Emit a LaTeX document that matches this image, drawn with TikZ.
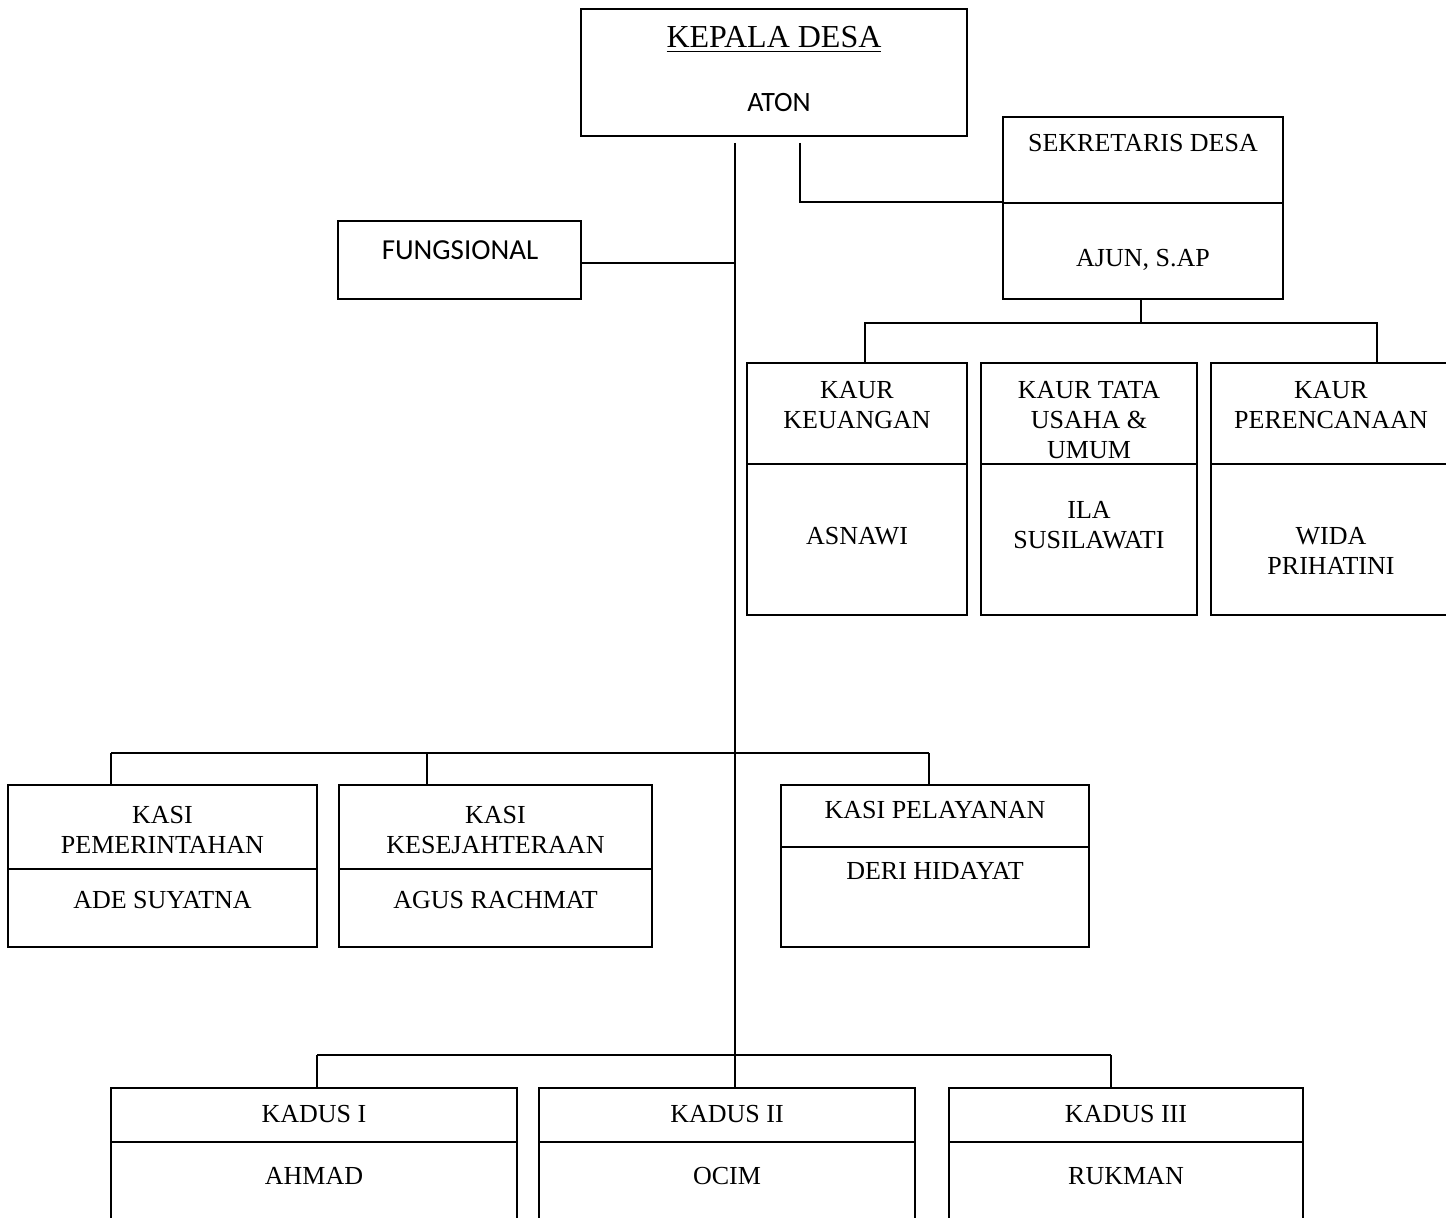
\documentclass[tikz,border=0pt]{standalone}
\usepackage{fontspec}
\setmainfont{Liberation Serif}
\newfontfamily\calibfont{Carlito}
\usetikzlibrary{fit}
\tikzset{
  cell/.style={draw=black, line width=0.8pt, inner sep=0pt},
  lbl/.style={font=\fontsize{13}{15}\selectfont, align=center, inner sep=0pt},
  baselbl/.style={lbl, anchor=base},
  sanslbl/.style={font=\calibfont\fontsize{14}{16}\selectfont, anchor=base, inner sep=0pt},
  link/.style={draw=black, line width=0.9pt},
}
\begin{document}
\begin{tikzpicture}[x=0.5pt,y=-0.5pt]
\useasboundingbox (0,0) rectangle (1446,1218);
% kepala desa
\node[cell, fit={(581,9) (967,136)}] (kades) {};
\node[baselbl, font=\fontsize{16}{18}\selectfont] (kadesT) at (774,48) {\underline{KEPALA DESA}};
\node[sanslbl] (kadesN) at (779,112) {ATON};
% fungsional
\node[cell, fit={(338,221) (581,299)}] (fung) {};
\node[sanslbl, font=\calibfont\fontsize{14.5}{16}\selectfont] (fungT) at (460,260) {FUNGSIONAL};
% sekretaris desa
\node[cell, fit={(1003,117) (1283,203)}] (sekT) {};
\node[cell, fit={(1003,203) (1283,299)}] (sekB) {};
\node[baselbl] (sekTx) at (1143,152) {SEKRETARIS DESA};
\node[baselbl] (sekBx) at (1143,267) {AJUN, S.AP};
% kaur
\node[cell, fit={(747,363) (967,464)}] (keuT) {};
\node[cell, fit={(747,464) (967,615)}] (keuB) {};
\node[cell, fit={(981,363) (1197,464)}] (tuT) {};
\node[cell, fit={(981,464) (1197,615)}] (tuB) {};
\node[cell, fit={(1211,363) (1451,464)}] (renT) {};
\node[cell, fit={(1211,464) (1451,615)}] (renB) {};
\node[lbl] (keuTx) at (857,405.5) {KAUR\\KEUANGAN};
\node[baselbl] (keuBx) at (857,545) {ASNAWI};
\node[lbl] (tuTx) at (1089,420) {KAUR TATA\\USAHA \&\\UMUM};
\node[lbl] (tuBx) at (1089,525) {ILA\\SUSILAWATI};
\node[lbl] (renTx) at (1331,405.5) {KAUR\\PERENCANAAN};
\node[lbl] (renBx) at (1331,551) {WIDA\\PRIHATINI};
% kasi
\node[cell, fit={(8,785) (317,869)}] (pemT) {};
\node[cell, fit={(8,869) (317,947)}] (pemB) {};
\node[cell, fit={(339,785) (652,869)}] (kesT) {};
\node[cell, fit={(339,869) (652,947)}] (kesB) {};
\node[cell, fit={(781,785) (1089,847)}] (pelT) {};
\node[cell, fit={(781,847) (1089,947)}] (pelB) {};
\node[lbl] (pemTx) at (162.5,830) {KASI\\PEMERINTAHAN};
\node[baselbl] (pemBx) at (162.5,908) {ADE SUYATNA};
\node[lbl] (kesTx) at (495.5,830) {KASI\\KESEJAHTERAAN};
\node[baselbl] (kesBx) at (495.5,908) {AGUS RACHMAT};
\node[baselbl] (pelTx) at (935,819) {KASI PELAYANAN};
\node[baselbl] (pelBx) at (935,879) {DERI HIDAYAT};
% kadus (cut off at the bottom edge)
\node[cell, fit={(111,1088) (517,1142)}] (kd1T) {};
\node[cell, fit={(111,1142) (517,1240)}] (kd1B) {};
\node[cell, fit={(539,1088) (915,1142)}] (kd2T) {};
\node[cell, fit={(539,1142) (915,1240)}] (kd2B) {};
\node[cell, fit={(949,1088) (1303,1142)}] (kd3T) {};
\node[cell, fit={(949,1142) (1303,1240)}] (kd3B) {};
\node[baselbl] (kd1Tx) at (314,1122) {KADUS I};
\node[baselbl] (kd1Bx) at (314,1184) {AHMAD};
\node[baselbl] (kd2Tx) at (727,1122) {KADUS II};
\node[baselbl] (kd2Bx) at (727,1184) {OCIM};
\node[baselbl] (kd3Tx) at (1126,1122) {KADUS III};
\node[baselbl] (kd3Bx) at (1126,1184) {RUKMAN};
% connectors
\coordinate (trunk) at (735,143);
\coordinate (seklink) at (800,143);
\draw[link] (trunk) -- (trunk |- kd2T.north);
\draw[link] (seklink) |- (sekB.north west);
\draw[link] ([yshift=-1.5pt]fung.east) -- ([yshift=-1.5pt]fung.east -| trunk);
\coordinate (kaurL) at (865,323);
\coordinate (kaurM) at (1141,323);
\coordinate (kaurR) at (1377,323);
\draw[link] (kaurM |- sekB.south) -- (kaurM);
\draw[link] (kaurL |- keuT.north) -- (kaurL) -- (kaurR) -- (kaurR |- renT.north);
\coordinate (kasiL) at (111,753);
\coordinate (kasiM) at (427,753);
\coordinate (kasiR) at (929,753);
\draw[link] (kasiL) -- (kasiR);
\foreach \c/\n in {kasiL/pemT, kasiM/kesT, kasiR/pelT}
  \draw[link] (\c) -- (\c |- \n.north);
\coordinate (kadusL) at (317,1055);
\coordinate (kadusR) at (1111,1055);
\draw[link] (kadusL) -- (kadusR);
\foreach \c/\n in {kadusL/kd1T, kadusR/kd3T}
  \draw[link] (\c) -- (\c |- \n.north);
\end{tikzpicture}
\end{document}
